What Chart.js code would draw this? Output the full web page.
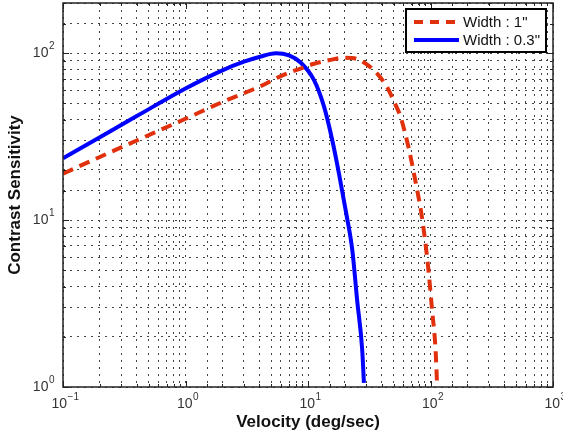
<!DOCTYPE html>
<html>
<head>
<meta charset="utf-8">
<script src="https://cdn.jsdelivr.net/npm/chart.js@4.4.1/dist/chart.umd.min.js"></script>
<style>
  html, body { margin: 0; padding: 0; background: #fff; }
</style>
</head>
<body>
<canvas id="myChart" width="563" height="436"></canvas>
<script>
// Width 1" stimulus (red dashed)
const wideVelocity    = [0.1, 0.2, 0.4, 1, 2, 4, 6, 8.7, 11.2, 15, 20, 25, 30, 37, 44, 50, 57, 66, 75, 85, 95, 103, 110, 113];
const wideSensitivity = [19, 23.9, 30, 40.5, 51, 63, 73, 81, 86.5, 91, 94, 92.5, 86, 75, 63, 52, 41.5, 27.5, 17.4, 10.5, 5.5, 2.9, 1.67, 1.06];

// Width 0.3" stimulus (blue solid)
const narrowVelocity    = [0.1, 0.2, 0.4, 1, 2, 3, 4, 5.5, 7, 8.7, 11.2, 13.5, 15.8, 17.9, 20.5, 23, 25.2, 27.7, 28.6];
const narrowSensitivity = [23.5, 31.4, 42, 61.5, 79, 89, 95, 100, 97, 88, 69, 48, 30, 19, 11, 6.6, 3.3, 1.67, 1.06];

const seriesLabels = ['Width : 1"', 'Width : 0.3"'];

const FONT = '"Liberation Sans", Arial, Helvetica, sans-serif';
const RED = '#e0300c';
const BLUE = '#0000ff';

const toPoints = (xs, ys) => xs.map((x, i) => ({ x: x, y: ys[i] }));

function isPower(v) {
  const l = Math.log10(v);
  return Math.abs(l - Math.round(l)) < 1e-6;
}

// draws "10" with a raised exponent
function drawPower(ctx, exp, x, y, align) {
  const e = String(exp).replace('-', '\u2212');
  ctx.font = '14px ' + FONT;
  const wBase = ctx.measureText('10').width;
  ctx.font = '10px ' + FONT;
  const wExp = ctx.measureText(e).width;
  let left = align === 'right' ? x - wBase - wExp : x - (wBase + wExp) / 2;
  ctx.textAlign = 'left';
  ctx.textBaseline = 'middle';
  ctx.font = '14px ' + FONT;
  ctx.fillText('10', left, y);
  ctx.font = '10px ' + FONT;
  ctx.fillText(e, left + wBase + 0.5, y - 7);
}

// box round the plot, MATLAB-style inward tick marks, power-of-ten labels
const boxPlugin = {
  id: 'box',
  afterDraw(chart) {
    const { ctx, chartArea: a, scales } = chart;
    ctx.save();
    ctx.strokeStyle = '#222';
    ctx.lineWidth = 1;
    ctx.setLineDash([]);
    ctx.beginPath();
    scales.x.ticks.forEach(t => {
      const px = Math.round(scales.x.getPixelForValue(t.value)) + 0.5;
      const len = isPower(t.value) ? 6 : 3;
      ctx.moveTo(px, a.bottom); ctx.lineTo(px, a.bottom - len);
      ctx.moveTo(px, a.top); ctx.lineTo(px, a.top + len);
    });
    scales.y.ticks.forEach(t => {
      const py = Math.round(scales.y.getPixelForValue(t.value)) + 0.5;
      const len = isPower(t.value) ? 6 : 3;
      ctx.moveTo(a.left, py); ctx.lineTo(a.left + len, py);
      ctx.moveTo(a.right, py); ctx.lineTo(a.right - len, py);
    });
    ctx.stroke();
    ctx.lineWidth = 1.5;
    ctx.strokeRect(a.left, a.top, a.right - a.left, a.bottom - a.top);

    ctx.fillStyle = '#333';
    scales.x.ticks.forEach(t => {
      if (!isPower(t.value)) return;
      drawPower(ctx, Math.round(Math.log10(t.value)), scales.x.getPixelForValue(t.value) + 2, a.bottom + 17, 'center');
    });
    scales.y.ticks.forEach(t => {
      if (!isPower(t.value)) return;
      drawPower(ctx, Math.round(Math.log10(t.value)), a.left - 9, scales.y.getPixelForValue(t.value), 'right');
    });
    ctx.restore();
  }
};

// legend box in the top right corner
const legendPlugin = {
  id: 'legendBox',
  afterDraw(chart) {
    const { ctx, chartArea: a } = chart;
    const x0 = a.right - 147, y0 = a.top + 6, w = 140, h = 43;
    ctx.save();
    ctx.fillStyle = '#fff';
    ctx.fillRect(x0, y0, w, h);
    ctx.strokeStyle = '#000';
    ctx.lineWidth = 2;
    ctx.setLineDash([]);
    ctx.strokeRect(x0, y0, w, h);

    const rows = [
      { color: RED, dash: [9, 7], label: seriesLabels[0], y: y0 + 13 },
      { color: BLUE, dash: [], label: seriesLabels[1], y: y0 + 31 }
    ];
    rows.forEach(r => {
      ctx.strokeStyle = r.color;
      ctx.lineWidth = 4;
      ctx.setLineDash(r.dash);
      ctx.beginPath();
      ctx.moveTo(x0 + 8, r.y);
      ctx.lineTo(x0 + 53, r.y);
      ctx.stroke();
      ctx.setLineDash([]);
      ctx.fillStyle = '#111';
      ctx.font = '15px ' + FONT;
      ctx.textAlign = 'left';
      ctx.textBaseline = 'middle';
      ctx.fillText(r.label, x0 + 57, r.y + 1);
    });
    ctx.restore();
  }
};

const ctx = document.getElementById('myChart').getContext('2d');
new Chart(ctx, {
  type: 'line',
  data: {
    datasets: [
      {
        label: seriesLabels[0],
        data: toPoints(wideVelocity, wideSensitivity),
        borderColor: RED,
        borderWidth: 4,
        borderDash: [11, 7],
        pointRadius: 0,
        fill: false,
        cubicInterpolationMode: 'monotone'
      },
      {
        label: seriesLabels[1],
        data: toPoints(narrowVelocity, narrowSensitivity),
        borderColor: BLUE,
        borderWidth: 4,
        pointRadius: 0,
        fill: false,
        cubicInterpolationMode: 'monotone'
      }
    ]
  },
  options: {
    responsive: false,
    devicePixelRatio: 1,
    animation: false,
    layout: { padding: { left: 0, right: 10, top: 3, bottom: 0 } },
    plugins: {
      legend: { display: false },
      tooltip: { enabled: false }
    },
    scales: {
      x: {
        type: 'logarithmic',
        min: 0.1,
        max: 1000,
        grid: { color: '#444', lineWidth: 1, drawTicks: false },
        border: { display: false, dash: [2, 5] },
        ticks: { display: false, autoSkip: false },
        title: {
          display: true,
          text: 'Velocity (deg/sec)',
          color: '#111',
          font: { family: FONT, size: 17, weight: 'bold' },
          padding: { top: 0, bottom: 3 }
        },
        afterFit: (s) => { s.height = 49; s.paddingLeft = 0; s.paddingRight = 0; }
      },
      y: {
        type: 'logarithmic',
        min: 1,
        max: 200,
        grid: { color: '#444', lineWidth: 1, drawTicks: false },
        border: { display: false, dash: [2, 5] },
        ticks: { display: false, autoSkip: false },
        title: {
          display: true,
          text: 'Contrast Sensitivity',
          color: '#111',
          font: { family: FONT, size: 17, weight: 'bold' },
          padding: { top: 5, bottom: 0 }
        },
        afterFit: (s) => { s.width = 63; s.paddingTop = 0; s.paddingBottom = 0; }
      }
    }
  },
  plugins: [boxPlugin, legendPlugin]
});
</script>
</body>
</html>
